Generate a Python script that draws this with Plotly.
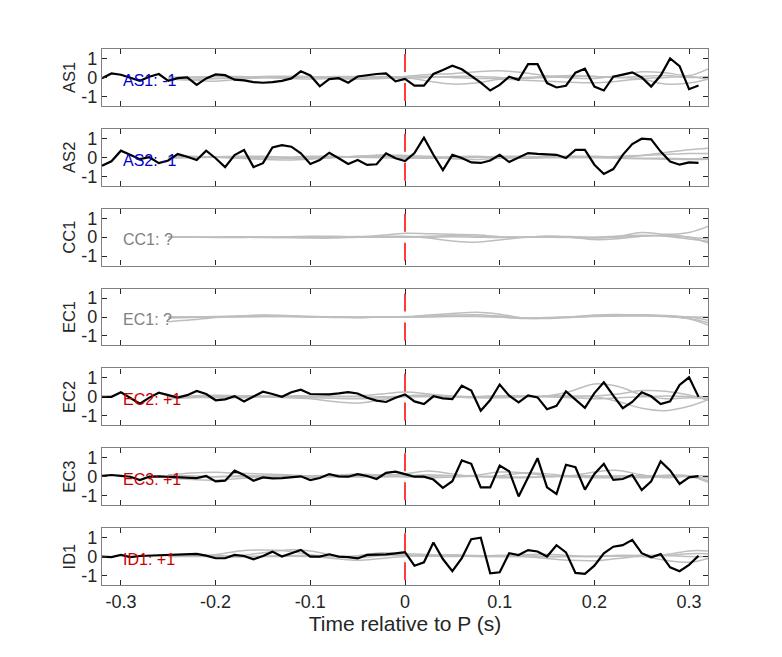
#!/usr/bin/env python3
"""Observed versus synthetic P-wave polarity traces for seven stations."""

from __future__ import annotations

import plotly.graph_objects as go
from plotly.subplots import make_subplots


STATIONS = ["AS1", "AS2", "CC1", "EC1", "EC2", "EC3", "ID1"]
POLARITIES = ["-1", "-1", "?", "?", "+1", "+1", "+1"]

# observed samples, every 0.01 s
TIME = [
    -0.32, -0.31, -0.30, -0.29, -0.28, -0.27, -0.26, -0.25, -0.24, -0.23, -0.22,
    -0.21, -0.20, -0.19, -0.18, -0.17, -0.16, -0.15, -0.14, -0.13, -0.12, -0.11,
    -0.10, -0.09, -0.08, -0.07, -0.06, -0.05, -0.04, -0.03, -0.02, -0.01, 0.00,
    0.01, 0.02, 0.03, 0.04, 0.05, 0.06, 0.07, 0.08, 0.09, 0.10, 0.11, 0.12,
    0.13, 0.14, 0.15, 0.16, 0.17, 0.18, 0.19, 0.20, 0.21, 0.22, 0.23, 0.24,
    0.25, 0.26, 0.27, 0.28, 0.29, 0.30, 0.31,
]

AS1_OBS = [
    -0.04, 0.21, 0.14, 0.00, -0.18, 0.04, 0.18, -0.18, -0.04, 0.00, -0.39,
    -0.05, 0.16, 0.12, -0.12, -0.16, -0.25, -0.28, -0.25, -0.18, -0.05, 0.32,
    0.10, -0.47, -0.09, -0.04, -0.28, 0.05, 0.12, 0.18, 0.21, -0.21, -0.08,
    -0.43, -0.43, 0.18, 0.39, 0.62, 0.43, 0.08, -0.27, -0.69, -0.39, 0.04, -0.13,
    0.70, 0.70, -0.30, -0.53, -0.44, 0.25, 0.46, -0.48, -0.69, 0.04, 0.15, 0.27,
    0.00, -0.48, 0.10, 1.00, 0.60, -0.62, -0.43,
]
AS2_OBS = [
    -0.45, -0.21, 0.35, 0.12, -0.10, 0.00, -0.31, -0.17, 0.17, 0.03, -0.14,
    0.35, -0.05, -0.52, 0.12, 0.38, -0.52, -0.31, 0.52, 0.64, 0.56, 0.21,
    -0.35, -0.14, 0.24, -0.05, -0.35, -0.14, -0.40, -0.37, 0.21, -0.05, -0.20,
    0.22, 1.03, 0.13, -0.68, 0.13, -0.04, -0.27, -0.30, -0.17, 0.13, -0.25, 0.00,
    0.22, 0.18, 0.17, 0.13, -0.04, 0.39, 0.39, -0.39, -0.88, -0.62, 0.13, 0.70,
    0.98, 0.95, 0.30, -0.22, -0.39, -0.27, -0.30,
]
EC2_OBS = [
    0.00, 0.00, 0.24, -0.04, -0.36, -0.04, 0.22, 0.09, -0.04, 0.09, 0.31,
    0.15, -0.18, -0.13, 0.04, -0.24, 0.00, 0.27, 0.15, 0.00, 0.24, 0.38,
    0.15, 0.13, 0.13, 0.18, 0.25, 0.18, -0.05, -0.20, -0.27, -0.05, 0.13,
    -0.24, -0.38, 0.03, -0.08, -0.12, 0.59, 0.33, -0.73, -0.17, 0.65, 0.06, -0.29,
    0.08, -0.03, -0.65, -0.47, 0.29, -0.17, -0.58, 0.20, 0.77, 0.06, -0.60, -0.27,
    0.24, 0.03, -0.38, -0.24, 0.63, 1.03, 0.00,
]
EC3_OBS = [
    0.04, 0.09, 0.04, 0.00, -0.18, 0.00, 0.02, 0.00, 0.00, -0.04, -0.07,
    0.04, -0.25, -0.21, 0.32, 0.09, -0.21, -0.04, -0.09, -0.07, -0.04, 0.02,
    -0.18, -0.07, 0.14, 0.02, 0.00, 0.14, 0.04, -0.12, 0.20, 0.27, 0.14,
    0.00, 0.00, -0.15, -0.59, -0.24, 0.86, 0.68, -0.56, -0.56, 0.59, 0.29, -1.04,
    -0.03, 0.98, -0.56, -0.91, 0.63, 0.50, -0.68, 0.15, 0.68, -0.17, -0.12, 0.10,
    -0.70, -0.24, 0.81, 0.33, -0.38, -0.03, 0.03,
]
ID1_OBS = [
    0.00, -0.03, 0.09, -0.03, 0.03, 0.05, 0.09, 0.09, 0.12, 0.14, 0.14,
    0.05, -0.09, -0.09, 0.09, 0.03, -0.14, 0.03, 0.26, 0.00, 0.17, 0.35,
    0.00, 0.00, 0.12, 0.00, -0.03, -0.10, 0.09, 0.09, 0.12, 0.17, 0.23,
    -0.48, -0.30, 0.74, -0.13, -0.77, -0.08, 0.92, 1.00, -0.88, -0.83, 0.18, 0.08,
    0.34, 0.27, 0.00, 0.60, 0.22, -0.86, -0.91, -0.48, 0.17, 0.52, 0.60, 0.88,
    0.18, -0.04, 0.13, -0.57, -0.77, -0.44, 0.04,
]

# synthetic traces, smoothed between these knots
SYN_TIME = [
    -0.25, -0.225, -0.2, -0.175, -0.15, -0.125, -0.1, -0.075, -0.05, -0.025,
    0.0, 0.025, 0.05, 0.075, 0.1, 0.125, 0.15, 0.175, 0.2, 0.225, 0.25, 0.275,
    0.3, 0.32,
]
AS1_SYN = [
    [-0.05, -0.15, -0.2, -0.1, 0.0, 0.05, 0.05, 0.0, -0.05, 0.0, 0.05, 0.15,
     0.2, 0.3, 0.35, 0.25, 0.08, -0.02, -0.05, 0.1, 0.3, 0.25, 0.1, 0.45],
    [0.0, 0.02, 0.05, 0.05, 0.0, -0.05, -0.08, -0.05, 0.0, 0.05, 0.0, -0.2,
     -0.35, -0.3, -0.1, -0.15, -0.2, -0.25, -0.28, -0.2, -0.1, -0.35, -0.3, -0.1],
    [0.0, 0.0, -0.05, -0.05, -0.02, 0.0, 0.02, 0.05, 0.05, 0.0, -0.05, 0.0,
     0.05, 0.05, 0.0, -0.05, 0.0, 0.05, 0.05, 0.0, -0.05, 0.0, 0.05, -0.1],
    [-0.1, -0.1, -0.05, 0.0, 0.05, 0.05, 0.0, -0.05, -0.1, -0.05, 0.0, 0.05,
     0.0, -0.05, -0.05, 0.0, 0.05, 0.1, 0.05, 0.0, 0.05, 0.1, 0.0, 0.05],
]
AS2_SYN = [
    [0.0, 0.02, 0.0, -0.05, -0.12, -0.14, -0.1, -0.02, 0.05, 0.1, 0.05, 0.0,
     -0.08, -0.12, -0.05, 0.0, 0.05, 0.05, 0.0, 0.0, 0.1, 0.25, 0.4, 0.48],
    [0.0, 0.0, 0.03, 0.05, 0.05, 0.0, -0.03, 0.0, 0.05, 0.12, 0.1, 0.05,
     0.0, 0.0, 0.05, 0.05, 0.0, -0.02, 0.0, 0.05, 0.1, 0.15, 0.2, 0.2],
    [-0.05, -0.03, 0.0, 0.0, 0.0, -0.05, -0.05, 0.0, 0.0, 0.05, 0.0, -0.05,
     -0.05, 0.0, 0.0, 0.0, 0.0, 0.05, 0.05, 0.0, -0.05, -0.05, -0.08, -0.05],
    [0.05, 0.05, 0.0, -0.03, -0.05, 0.0, 0.05, 0.05, 0.0, -0.02, -0.05, -0.02,
     0.03, 0.05, 0.0, -0.05, -0.03, 0.0, -0.02, -0.05, -0.08, -0.1, -0.12, -0.1],
]
CC1_SYN = [
    [0.0, 0.0, 0.0, 0.0, 0.0, 0.02, 0.05, 0.05, 0.02, 0.1, 0.2, 0.18,
     0.15, 0.12, 0.02, 0.0, 0.05, 0.03, -0.02, 0.05, 0.25, 0.15, 0.25, 0.57],
    [0.0, 0.0, -0.02, -0.02, 0.0, -0.02, -0.05, -0.05, 0.0, 0.03, 0.05, -0.05,
     -0.2, -0.27, -0.15, -0.02, 0.05, 0.0, -0.13, -0.08, 0.05, 0.08, 0.0, -0.1],
    [0.0, 0.0, 0.0, 0.02, 0.0, 0.0, 0.02, 0.0, 0.0, 0.0, 0.02, 0.05,
     0.08, 0.05, 0.0, 0.0, 0.02, 0.0, 0.0, 0.05, 0.1, 0.05, -0.1, -0.22],
    [0.0, 0.0, 0.0, 0.0, -0.02, -0.02, 0.0, 0.02, 0.03, 0.02, 0.0, 0.0,
     0.02, 0.0, -0.02, 0.0, 0.0, -0.02, -0.05, 0.0, 0.05, 0.1, 0.0, -0.3],
]
EC1_SYN = [
    [-0.25, -0.15, -0.02, 0.05, 0.1, 0.08, 0.03, 0.0, -0.02, 0.0, 0.02, 0.1,
     0.18, 0.25, 0.15, -0.05, -0.08, -0.02, 0.05, 0.1, 0.12, 0.08, 0.0, -0.17],
    [0.0, 0.0, 0.02, 0.05, 0.08, 0.05, 0.02, 0.0, -0.02, 0.0, 0.0, 0.05,
     0.1, 0.12, 0.05, -0.05, -0.05, 0.0, 0.1, 0.13, 0.08, 0.02, -0.08, -0.3],
    [0.0, 0.0, 0.0, 0.02, 0.03, 0.02, 0.0, 0.0, 0.0, 0.0, 0.0, 0.02,
     0.05, 0.05, 0.0, -0.08, -0.05, 0.0, 0.05, 0.05, 0.05, 0.05, -0.1, -0.42],
    [-0.05, -0.02, 0.0, 0.0, 0.02, 0.02, 0.0, -0.02, -0.03, 0.0, 0.0, 0.0,
     0.02, 0.03, 0.0, -0.05, -0.03, 0.0, 0.02, 0.05, 0.1, 0.05, 0.0, 0.0],
]
EC2_SYN = [
    [0.0, 0.05, 0.08, 0.05, 0.0, -0.05, -0.1, -0.25, -0.33, -0.15, 0.05, 0.1,
     0.05, 0.0, -0.02, 0.0, 0.05, 0.3, 0.68, 0.55, 0.1, -0.1, -0.05, -0.08],
    [-0.1, -0.05, 0.0, 0.05, 0.05, 0.02, 0.0, 0.02, 0.05, 0.15, 0.25, 0.15,
     0.02, 0.0, 0.05, 0.05, 0.0, 0.0, 0.0, -0.25, -0.6, -0.73, -0.5, -0.15],
    [0.05, 0.0, -0.05, -0.05, 0.0, 0.05, 0.05, 0.02, 0.0, 0.0, 0.05, 0.05,
     0.0, -0.05, -0.05, 0.0, 0.05, 0.05, 0.05, 0.15, 0.33, 0.3, 0.1, -0.18],
    [0.0, 0.0, 0.0, 0.02, 0.03, 0.0, -0.05, -0.08, -0.1, -0.05, 0.0, 0.0,
     0.0, 0.02, 0.05, 0.05, 0.02, -0.05, -0.1, -0.05, 0.0, 0.05, 0.02, 0.0],
]
EC3_SYN = [
    [0.1, 0.2, 0.23, 0.18, 0.14, 0.1, 0.05, 0.08, 0.14, 0.1, 0.15, 0.3,
     0.15, 0.0, 0.05, 0.2, 0.15, 0.05, 0.25, 0.33, 0.1, -0.05, 0.05, 0.05],
    [-0.05, -0.15, -0.18, -0.1, 0.0, 0.05, 0.05, 0.0, -0.02, 0.0, 0.05, 0.1,
     0.05, 0.02, 0.0, -0.02, 0.0, 0.05, 0.05, 0.0, -0.05, 0.0, 0.0, -0.07],
    [0.05, 0.05, 0.0, 0.0, 0.0, 0.02, 0.05, 0.05, 0.02, 0.0, 0.0, 0.02,
     0.05, 0.08, 0.25, 0.2, 0.05, 0.0, 0.0, 0.05, 0.05, 0.05, 0.0, -0.2],
    [0.0, -0.05, 0.0, 0.05, 0.05, 0.0, -0.03, 0.0, 0.05, 0.05, 0.0, -0.05,
     -0.02, 0.02, -0.05, -0.05, 0.0, 0.0, -0.05, -0.05, 0.0, 0.08, 0.05, -0.3],
]
ID1_SYN = [
    [0.05, 0.05, 0.1, 0.3, 0.35, 0.3, 0.1, 0.0, 0.05, 0.2, 0.1, 0.05,
     0.1, 0.05, 0.05, 0.1, 0.12, 0.05, 0.0, 0.05, 0.05, 0.1, 0.3, 0.3],
    [0.0, 0.03, 0.05, 0.05, 0.2, 0.35, 0.3, 0.05, -0.05, 0.05, 0.15, 0.1,
     0.05, 0.02, 0.0, 0.0, 0.0, 0.0, 0.02, 0.05, 0.05, 0.05, 0.15, 0.15],
    [0.0, 0.0, 0.0, -0.02, 0.0, 0.02, 0.0, -0.1, -0.2, -0.1, 0.0, 0.05,
     0.05, 0.0, 0.0, 0.0, -0.1, -0.2, -0.22, -0.1, 0.0, -0.2, -0.3, -0.1],
    [0.05, 0.05, 0.03, 0.0, 0.02, 0.05, 0.05, 0.0, 0.0, 0.05, 0.05, 0.02,
     0.0, 0.02, 0.05, 0.05, 0.0, 0.0, 0.0, 0.02, 0.05, 0.05, 0.0, 0.0],
]

X_TICKS = [-0.3, -0.2, -0.1, 0.0, 0.1, 0.2, 0.3]
X_TICK_TEXT = ["-0.3", "-0.2", "-0.1", "0", "0.1", "0.2", "0.3"]
Y_TICKS = [-1, 0, 1]
Y_TICK_TEXT = ["-1", "0", "1"]

FONT = "Liberation Sans, Arial, Helvetica, sans-serif"
POLARITY_COLORS = {"-1": "#0000CC", "+1": "#CC0000", "?": "#808080"}


def build_figure() -> go.Figure:
    """Stack one panel per station with synthetics behind the observed trace."""
    observed = [AS1_OBS, AS2_OBS, None, None, EC2_OBS, EC3_OBS, ID1_OBS]
    synthetics = [AS1_SYN, AS2_SYN, CC1_SYN, EC1_SYN, EC2_SYN, EC3_SYN, ID1_SYN]

    fig = make_subplots(
        rows=len(STATIONS), cols=1, shared_xaxes=False, vertical_spacing=23 / 536
    )
    for row, station in enumerate(STATIONS, start=1):
        for syn in synthetics[row - 1]:
            fig.add_trace(
                go.Scatter(
                    x=SYN_TIME, y=syn, mode="lines",
                    line={"color": "#BEBEBE", "width": 1.5, "shape": "spline"},
                    hoverinfo="skip",
                ),
                row=row, col=1,
            )
        fig.add_trace(
            go.Scatter(
                x=[0, 0], y=[1.5, -1.5], mode="lines",
                line={"color": "#FF3B3B", "width": 2,
                      "dash": "0px,5px,18px,11px,18px,40px"},
                hoverinfo="skip",
            ),
            row=row, col=1,
        )
        if observed[row - 1] is not None:
            fig.add_trace(
                go.Scatter(
                    x=TIME, y=observed[row - 1], mode="lines",
                    line={"color": "black", "width": 2.2},
                    name=station,
                ),
                row=row, col=1,
            )
        polarity = POLARITIES[row - 1]
        fig.add_annotation(
            text=f"{station}: {polarity}",
            x=-0.3, y=-0.15, xanchor="left", yanchor="middle",
            showarrow=False,
            font={"size": 16, "color": POLARITY_COLORS[polarity], "family": FONT},
            row=row, col=1,
        )
        fig.update_xaxes(
            range=[-0.32, 0.32], tickvals=X_TICKS, ticktext=X_TICK_TEXT,
            showticklabels=(row == len(STATIONS)),
            ticks="inside", ticklen=5, tickcolor="#262626",
            showline=True, linecolor="#808080", linewidth=1.3, mirror="ticks",
            showgrid=False, zeroline=False,
            row=row, col=1,
        )
        fig.update_yaxes(
            range=[-1.5, 1.5], tickvals=Y_TICKS, ticktext=Y_TICK_TEXT,
            ticks="inside", ticklen=5, tickcolor="#262626",
            showline=True, linecolor="#808080", linewidth=1.3, mirror="ticks",
            showgrid=False, zeroline=False,
            title={"text": station, "standoff": 1, "font": {"size": 16.5}},
            row=row, col=1,
        )

    fig.update_xaxes(
        title={"text": "Time relative to P (s)", "standoff": 4, "font": {"size": 21}},
        row=len(STATIONS), col=1,
    )
    # the page body adds an 8px margin, so the figure is 8px smaller each way
    fig.update_layout(
        width=774,
        height=649,
        showlegend=False,
        plot_bgcolor="white",
        paper_bgcolor="white",
        font={"family": FONT, "size": 18, "color": "#262626"},
        margin={"l": 94, "r": 74, "t": 41, "b": 72},
    )
    return fig


def main() -> None:
    fig = build_figure()
    fig.write_html("out.html")


if __name__ == "__main__":
    main()
